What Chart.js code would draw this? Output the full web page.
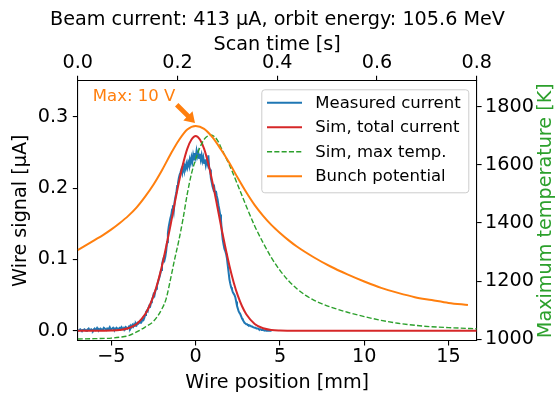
<!DOCTYPE html>
<html>
<head>
<meta charset="utf-8">
<script src="https://cdn.jsdelivr.net/npm/chart.js@4.4.0/dist/chart.umd.min.js"></script>
<style>
  html, body { margin: 0; padding: 0; background: #fff; }
</style>
</head>
<body>
<canvas id="beamChart" width="555" height="395"></canvas>
<script>
// ------------------------------------------------------------
// DATA
// ------------------------------------------------------------

// measured wire current, sampled every 0.05 mm starting at -7 mm [uA]
const measStart = -7.0;
const measStep = 0.05;
const measCurrent = [
  0.001,0.000,0.001,0.002,0.001,0.000,0.001,0.001,0.002,0.001,
  0.000,0.001,0.002,0.003,0.001,0.001,0.002,0.001,0.000,0.002,
  0.003,0.001,0.002,0.004,0.002,0.001,0.002,0.003,0.002,0.001,
  0.002,0.004,0.003,0.002,0.001,0.003,0.002,0.003,0.005,0.002,
  0.002,0.003,0.004,0.002,0.003,0.002,0.004,0.003,0.002,0.003,
  0.004,0.003,0.005,0.003,0.002,0.004,0.003,0.005,0.004,0.003,
  // -4.00
  0.004,0.006,0.004,0.007,0.005,0.008,0.006,0.009,0.007,0.010,
  0.008,0.011,0.010,0.012,0.011,0.014,0.013,0.016,0.015,0.018,
  // -3.00
  0.022,0.026,0.028,0.027,0.032,0.035,0.034,0.040,0.043,0.046,
  0.051,0.049,0.055,0.059,0.063,0.067,0.071,0.075,0.080,0.085,
  // -2.00
  0.092,0.098,0.102,0.099,0.104,0.112,0.124,0.137,0.146,0.152,
  0.158,0.162,0.170,0.176,0.168,0.181,0.188,0.193,0.203,0.207,
  // -1.00
  0.214,0.219,0.222,0.226,0.221,0.229,0.225,0.231,0.227,0.234,
  0.229,0.236,0.232,0.240,0.235,0.243,0.237,0.246,0.240,0.249,
  // 0.00
  0.243,0.252,0.245,0.250,0.242,0.248,0.240,0.246,0.238,0.243,
  0.235,0.240,0.232,0.238,0.234,0.246,0.228,0.226,0.214,0.208,
  // 1.00
  0.202,0.198,0.201,0.193,0.196,0.189,0.184,0.176,0.170,0.163,
  0.155,0.140,0.128,0.121,0.115,0.112,0.108,0.102,0.092,0.082,
  // 2.00
  0.072,0.066,0.061,0.058,0.054,0.052,0.050,0.047,0.041,0.035,
  0.031,0.027,0.025,0.023,0.020,0.017,0.015,0.013,0.011,0.010,
  // 3.00
  0.009,0.009,0.008,0.008,0.007,0.007,0.006,0.006,0.005,0.005,
  0.004,0.004,0.003,0.003,0.003,0.002,0.002,0.002,0.001,0.001,
  // 4.00 .. 4.50
  0.001,0.001,0.000,0.001,0.000,0.000,0.000,0.000,0.000,0.000,0.000
];

// simulated total current [uA]
const simPos = [-7, -6, -5, -4.5, -4, -3.5, -3,
  -2.75, -2.5, -2.25, -2, -1.75, -1.5, -1.25, -1, -0.75, -0.5, -0.25,
  0,
  0.25, 0.5, 0.75, 1, 1.25, 1.5, 1.75, 2, 2.25, 2.5, 2.75, 3,
  3.5, 4, 4.5, 5, 6, 8, 12, 16.67];
const simCurrent = [0, 0, 0.0003, 0.001, 0.0034, 0.0095, 0.0231,
  0.0343, 0.0491, 0.068, 0.0911, 0.118, 0.147, 0.178, 0.2076, 0.234, 0.255, 0.268,
  0.273,
  0.268, 0.255, 0.234, 0.2076, 0.178, 0.147, 0.118, 0.0911, 0.068, 0.0491, 0.0343, 0.0231,
  0.0095, 0.0034, 0.001, 0.0003, 0, 0, 0, 0];

// simulated maximum wire temperature [K]
const tempPos = [-7, -6, -5, -4.5, -4, -3.5, -3, -2.5, -2, -1.75, -1.5, -1.25,
  -1, -0.75, -0.5, -0.25, 0, 0.25, 0.5, 0.75, 0.9, 1.1, 1.3, 1.5, 1.75, 2,
  2.5, 3, 3.5, 4, 4.5, 5, 5.5, 6, 6.5, 7, 7.5, 8, 9, 10, 11, 12, 13, 14, 15, 16.67];
const tempK = [1001, 1002, 1004, 1007, 1012, 1025, 1042, 1062, 1105, 1140, 1205, 1275,
  1340, 1415, 1500, 1570, 1620, 1660, 1688, 1701, 1703, 1698, 1684, 1660, 1630, 1600,
  1530, 1458, 1390, 1332, 1280, 1237, 1202, 1174, 1152, 1135, 1122, 1111, 1093, 1078, 1065,
  1055, 1048, 1043, 1040, 1036];

// bunch potential, drawn on the wire-signal axis
const bunchPos = [-7, -6.5, -6, -5.5, -5, -4.5, -4, -3.5, -3, -2.5, -2, -1.5, -1, -0.5, 0,
  0.5, 1, 1.5, 2, 2.5, 3, 3.5, 4, 4.5, 5, 5.5, 6,
  7, 8, 9, 10, 11, 12, 13, 14, 15, 16.15];
const bunchVal = [0.113, 0.120, 0.127, 0.134, 0.142, 0.151, 0.161, 0.173, 0.188, 0.205, 0.225, 0.247, 0.267, 0.282, 0.287,
  0.283, 0.271, 0.254, 0.235, 0.214, 0.194, 0.176, 0.161, 0.148, 0.137, 0.127, 0.118,
  0.103, 0.090, 0.079, 0.069, 0.060, 0.053, 0.047, 0.043, 0.039, 0.036];

// axis ticks
const posTicks = [-5, 0, 5, 10, 15];
const timeTicks = [0, 0.2, 0.4, 0.6, 0.8];
const signalTicks = [0, 0.1, 0.2, 0.3];
const tempTicks = [1000, 1200, 1400, 1600, 1800];

const titleText = "Beam current: 413 \u03bcA, orbit energy: 105.6 MeV";
const maxLabel = "Max: 10 V";

// ------------------------------------------------------------
// STYLE
// ------------------------------------------------------------
const FONT = "DejaVu Sans";
const LABEL_SIZE = 19.2;
const LEGEND_SIZE = 16.5;
const C_BLUE = "#1f77b4", C_RED = "#d62728", C_GREEN = "#2ca02c", C_ORANGE = "#ff7f0e";

Chart.defaults.font.family = FONT;
Chart.defaults.color = "#000";

const zip = (xs, ys) => xs.map((x, i) => ({ x, y: ys[i] }));
const measPoints = measCurrent.map((v, i) => ({ x: measStart + i * measStep, y: v }));

const tickFont = { family: FONT, size: LABEL_SIZE, lineHeight: 1.2 };
const axisGrid = { drawOnChartArea: false, drawTicks: true, tickLength: 4.9, color: "#000", lineWidth: 1.1 };
const axisBorder = { display: true, color: "#000", width: 1.1 };
const fixTicks = values => scale => { scale.ticks = values.map(v => ({ value: v })); };

// ------------------------------------------------------------
// overlay: legend inside the axes, annotation arrow, right label
// ------------------------------------------------------------
const overlayPlugin = {
  id: "overlay",
  afterDatasetsDraw(chart) {
    const { ctx, chartArea, scales } = chart;

    // annotation pointing at the bunch potential maximum
    const iMax = bunchVal.indexOf(Math.max(...bunchVal));
    const px = scales.x.getPixelForValue(bunchPos[iMax]);
    const py = scales.y.getPixelForValue(bunchVal[iMax]);
    const tip = { x: px - 0.7, y: py - 3 };
    const tail = { x: tip.x - 18.3, y: tip.y - 18.3 };
    const dx = tip.x - tail.x, dy = tip.y - tail.y;
    const len = Math.hypot(dx, dy);
    const ux = dx / len, uy = dy / len, nx = -uy, ny = ux;
    const headLen = 10, headW = 6.5, bodyW = 2.4;
    const bx = tip.x - ux * headLen, by = tip.y - uy * headLen;
    ctx.save();
    ctx.fillStyle = C_ORANGE;
    ctx.beginPath();
    ctx.moveTo(tail.x + nx * bodyW, tail.y + ny * bodyW);
    ctx.lineTo(bx + nx * bodyW, by + ny * bodyW);
    ctx.lineTo(bx + nx * headW, by + ny * headW);
    ctx.lineTo(tip.x, tip.y);
    ctx.lineTo(bx - nx * headW, by - ny * headW);
    ctx.lineTo(bx - nx * bodyW, by - ny * bodyW);
    ctx.lineTo(tail.x - nx * bodyW, tail.y - ny * bodyW);
    ctx.closePath();
    ctx.fill();

    ctx.font = `${LEGEND_SIZE}px "${FONT}"`;
    ctx.textAlign = "left";
    ctx.textBaseline = "alphabetic";
    ctx.fillText(maxLabel, scales.x.getPixelForValue(-6.1), scales.y.getPixelForValue(0.3225));
    ctx.restore();

    // legend
    const boxW = 207, boxH = 103;
    const bx0 = chartArea.right - 8.4 - boxW, by0 = chartArea.top + 8.6;
    ctx.save();
    ctx.fillStyle = "rgba(255,255,255,0.8)";
    ctx.strokeStyle = "#cccccc";
    ctx.lineWidth = 1;
    ctx.beginPath();
    ctx.roundRect(bx0 + 0.5, by0 + 0.5, boxW, boxH, 3);
    ctx.fill();
    ctx.stroke();

    ctx.font = `${LEGEND_SIZE}px "${FONT}"`;
    ctx.textBaseline = "middle";
    ctx.textAlign = "left";
    chart.data.datasets.forEach((ds, i) => {
      const rowY = by0 + 13.4 + i * 24.5;
      ctx.strokeStyle = ds.borderColor;
      ctx.lineWidth = ds.borderWidth;
      ctx.setLineDash(ds.borderDash || []);
      ctx.beginPath();
      ctx.moveTo(bx0 + 5.7, rowY);
      ctx.lineTo(bx0 + 40.7, rowY);
      ctx.stroke();
      ctx.setLineDash([]);
      ctx.fillStyle = "#000";
      ctx.fillText(ds.label, bx0 + 54, rowY + 1);
    });
    ctx.restore();
  },
  afterDraw(chart) {
    const { ctx, chartArea } = chart;
    ctx.save();
    ctx.translate(chart.width - 8.5, (chartArea.top + chartArea.bottom) / 2);
    ctx.rotate(-Math.PI / 2);
    ctx.font = `${LABEL_SIZE}px "${FONT}"`;
    ctx.fillStyle = C_GREEN;
    ctx.textAlign = "center";
    ctx.textBaseline = "middle";
    ctx.fillText("Maximum temperature [K]", 0, 0);
    ctx.restore();
  }
};

// ------------------------------------------------------------
// CHART
// ------------------------------------------------------------
const ctx = document.getElementById("beamChart");

new Chart(ctx, {
  type: "scatter",
  data: {
    datasets: [
      {
        label: "Measured current",
        data: measPoints,
        showLine: true,
        borderColor: C_BLUE,
        borderWidth: 2,
        pointRadius: 0,
        xAxisID: "x",
        yAxisID: "y",
        order: 4
      },
      {
        label: "Sim, total current",
        data: zip(simPos, simCurrent),
        showLine: true,
        borderColor: C_RED,
        borderWidth: 2,
        pointRadius: 0,
        cubicInterpolationMode: "monotone",
        xAxisID: "x",
        yAxisID: "y",
        order: 3
      },
      {
        label: "Sim, max temp.",
        data: zip(tempPos, tempK),
        showLine: true,
        borderColor: C_GREEN,
        borderWidth: 1.4,
        borderDash: [5.1, 2.2],
        pointRadius: 0,
        cubicInterpolationMode: "monotone",
        xAxisID: "x",
        yAxisID: "yTemp",
        order: 2
      },
      {
        label: "Bunch potential",
        data: zip(bunchPos, bunchVal),
        showLine: true,
        borderColor: C_ORANGE,
        borderWidth: 2,
        pointRadius: 0,
        cubicInterpolationMode: "monotone",
        xAxisID: "x",
        yAxisID: "y",
        order: 1
      }
    ]
  },
  options: {
    responsive: false,
    animation: false,
    devicePixelRatio: 1,
    layout: { padding: 0 },
    plugins: {
      legend: { display: false },
      tooltip: { enabled: false },
      title: {
        display: true,
        text: titleText,
        color: "#000",
        font: { family: FONT, size: LABEL_SIZE, weight: "normal", lineHeight: 1.2 },
        padding: { top: 8.5, bottom: 0 }
      }
    },
    scales: {
      x: {
        type: "linear",
        position: "bottom",
        min: -7,
        max: 16.67,
        afterBuildTicks: fixTicks(posTicks),
        afterFit: s => { s.height = 54.3; },
        ticks: {
          font: tickFont,
          color: "#000",
          padding: 0,
          maxRotation: 0,
          autoSkip: false,
          callback: v => (v < 0 ? "\u2212" + Math.abs(v) : String(v))
        },
        grid: axisGrid,
        border: axisBorder,
        title: {
          display: true,
          text: "Wire position [mm]",
          color: "#000",
          font: { family: FONT, size: LABEL_SIZE, lineHeight: 1.2 },
          padding: { top: 0, bottom: 0.5 }
        }
      },
      xTop: {
        type: "linear",
        position: "top",
        min: 0,
        max: 0.8,
        afterBuildTicks: fixTicks(timeTicks),
        afterFit: s => { s.height = 49.16; },
        ticks: {
          font: tickFont,
          color: "#000",
          padding: 1.6,
          maxRotation: 0,
          autoSkip: false,
          callback: v => v.toFixed(1)
        },
        grid: axisGrid,
        border: axisBorder,
        title: {
          display: true,
          text: "Scan time [s]",
          color: "#000",
          font: { family: FONT, size: LABEL_SIZE, lineHeight: 1.2 },
          padding: { top: 1.5, bottom: 0 }
        }
      },
      y: {
        type: "linear",
        position: "left",
        min: -0.014,
        max: 0.3505,
        afterBuildTicks: fixTicks(signalTicks),
        afterFit: s => { s.width = 77.7; },
        ticks: {
          font: tickFont,
          color: "#000",
          padding: 4.5,
          callback: v => v.toFixed(1)
        },
        grid: axisGrid,
        border: axisBorder,
        title: {
          display: true,
          text: "Wire signal [\u03bcA]",
          color: "#000",
          font: { family: FONT, size: LABEL_SIZE, lineHeight: 1.2 },
          padding: { top: 9.0, bottom: 0 }
        }
      },
      yTemp: {
        type: "linear",
        position: "right",
        min: 995,
        max: 1890,
        afterBuildTicks: fixTicks(tempTicks),
        afterFit: s => { s.width = 78.3; },
        ticks: {
          font: tickFont,
          color: "#000",
          padding: 3.5,
          callback: v => String(v)
        },
        grid: axisGrid,
        border: axisBorder
      }
    }
  },
  plugins: [overlayPlugin]
});
</script>
</body>
</html>
